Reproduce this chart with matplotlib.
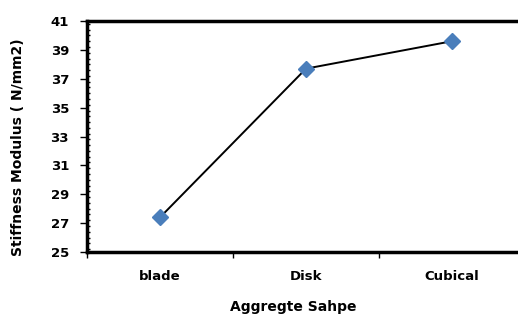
import matplotlib
matplotlib.use("Agg")
import matplotlib.pyplot as plt
from matplotlib.ticker import MultipleLocator

categories = ["blade", "Disk", "Cubical"]
values = [27.4, 37.7, 39.6]
yticks = [25, 27, 29, 31, 33, 35, 37, 39, 41]

plt.rcParams['font.family'] = ['DejaVu Sans']
FS = 9.5

fig = plt.figure(figsize=(5.18, 3.18), dpi=100)
ax = fig.add_axes([87/518, 1 - 252/318, (525-87)/518, (252-21)/318])

x = list(range(len(categories)))
ax.plot(x, values, color='black', lw=1.4, marker='D', markersize=8,
        markerfacecolor='#4A7EBB', markeredgecolor='#4A7EBB', zorder=3, clip_on=False)

ax.set_xlim(-0.5, len(categories) - 0.5)
ax.set_ylim(25, 41)
ax.set_yticks(yticks)
ax.set_yticklabels([str(t) for t in yticks], fontsize=FS, fontweight='bold')
ax.yaxis.set_minor_locator(MultipleLocator(0.4))
ax.tick_params(axis='y', which='major', direction='out', length=5, width=1, pad=8)
ax.tick_params(axis='y', which='minor', direction='in', length=2.5, width=1)

ax.set_xticks(x)
ax.set_xticklabels(categories, fontsize=FS, fontweight='bold')
ax.tick_params(axis='x', which='major', length=0, pad=13)
ax.set_xticks([-0.5, 0.5, 1.5, 2.5], minor=True)
ax.tick_params(axis='x', which='minor', direction='out', length=4, width=1)

for s in ['left', 'top', 'bottom']:
    ax.spines[s].set_linewidth(2.5)
ax.spines['right'].set_visible(False)

fig.text(18/518, 1 - 147/318, "Stiffness Modulus ( N/mm2)", rotation=90,
         ha='center', va='center', fontsize=10, fontweight='bold')
fig.text(293/518, 1 - 307/318, "Aggregte Sahpe", ha='center', va='center',
         fontsize=10, fontweight='bold')

fig.savefig("out.png", dpi=100)
